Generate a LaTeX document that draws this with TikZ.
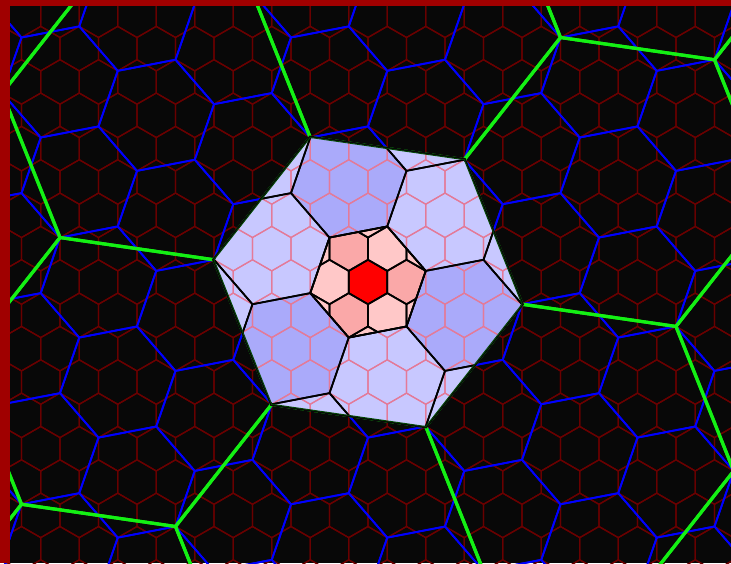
\documentclass[tikz,border=0pt]{standalone}
\usepackage{tikz}

\definecolor{bgblack}{RGB}{8,8,8}
\definecolor{framered}{RGB}{160,0,0}
\definecolor{gridred}{RGB}{105,0,0}
\definecolor{gridpink}{RGB}{228,122,152}
\definecolor{paleblue}{RGB}{200,200,255}
\definecolor{midblue}{RGB}{170,170,250}
\definecolor{palepink}{RGB}{255,200,200}
\definecolor{midpink}{RGB}{250,168,168}
\definecolor{linegreen}{RGB}{20,240,20}
\definecolor{edgegreen}{RGB}{0,70,0}

% hexagon outline: first vertex angle, radius
\newcommand{\hexring}[2]{(#1:#2) -- ({#1+60}:#2) -- ({#1+120}:#2) -- ({#1+180}:#2) -- ({#1+240}:#2) -- ({#1+300}:#2) -- cycle}
% pointy-top hexagon lattice: i range, j range, style
\newcommand{\hexlattice}[3]{%
  \foreach \i in {-#1,...,#1}
    \foreach \j in {-#2,...,#2}
      \draw[#3] ({38.5*(\i+0.5*\j)},{33.342*\j}) +(30:22.228) -- +(90:22.228)
        -- +(150:22.228) -- +(210:22.228) -- +(270:22.228) -- +(330:22.228) -- cycle;}

\begin{document}
\begin{tikzpicture}[
  x=1pt, y=1pt,
  cell/.style={draw=gridred, line width=1.3pt},
  clust/.style={draw=blue, line width=1.8pt},
  super/.style={draw=linegreen, line width=3.2pt},
  inner/.style={draw=gridpink, line width=1.2pt},
  edge/.style={draw=black, line width=1.7pt, line join=round}
]
  \useasboundingbox (-368,-281) rectangle (363,282);
  \fill[bgblack] (-368,-281) rectangle (363,282);

  \begin{scope}
    \clip (-368,-281) rectangle (363,282);
    % base cells
    \hexlattice{15}{9}{cell}
    % clusters of 7
    \begin{scope}[rotate=-19.1066, scale=2.645751]
      \hexlattice{8}{6}{clust}
    \end{scope}
    % clusters of 49
    \begin{scope}[rotate=-38.2132, scale=7]
      \hexlattice{4}{3}{super}
    \end{scope}
  \end{scope}

  % highlighted cluster of 49
  \draw[bgblack, line width=3.6pt] \hexring{-8.2132}{155.596};
  \fill[paleblue] \hexring{-8.2132}{155.596};
  \begin{scope}
    \clip \hexring{-8.2132}{155.596};
    \foreach \a in {-19.1066,100.8934,220.8934}
      \fill[midblue, shift={(\a:101.861)}] \hexring{10.8934}{58.810};
    \hexlattice{6}{5}{inner}
  \end{scope}

  % highlighted cluster of 7
  \fill[palepink] \hexring{10.8934}{58.810};
  \begin{scope}
    \clip \hexring{10.8934}{58.810};
    \foreach \a in {0,120,240}
      \fill[midpink, shift={(\a:38.5)}] \hexring{30}{22.228};
    \fill[red] \hexring{30}{22.228};
    \hexlattice{3}{2}{edge}
  \end{scope}
  \draw[edge] \hexring{10.8934}{58.810};

  \begin{scope}
    \clip \hexring{-8.2132}{155.596};
    \begin{scope}[rotate=-19.1066, scale=2.645751]
      \hexlattice{3}{2}{edge}
    \end{scope}
  \end{scope}
  \draw[edgegreen, line width=0.9pt] \hexring{-8.2132}{155.596};

  % frame
  \fill[framered] (-368,276) rectangle (363,282);
  \fill[framered] (-368,-281) rectangle (-358,282);
\end{tikzpicture}
\end{document}
